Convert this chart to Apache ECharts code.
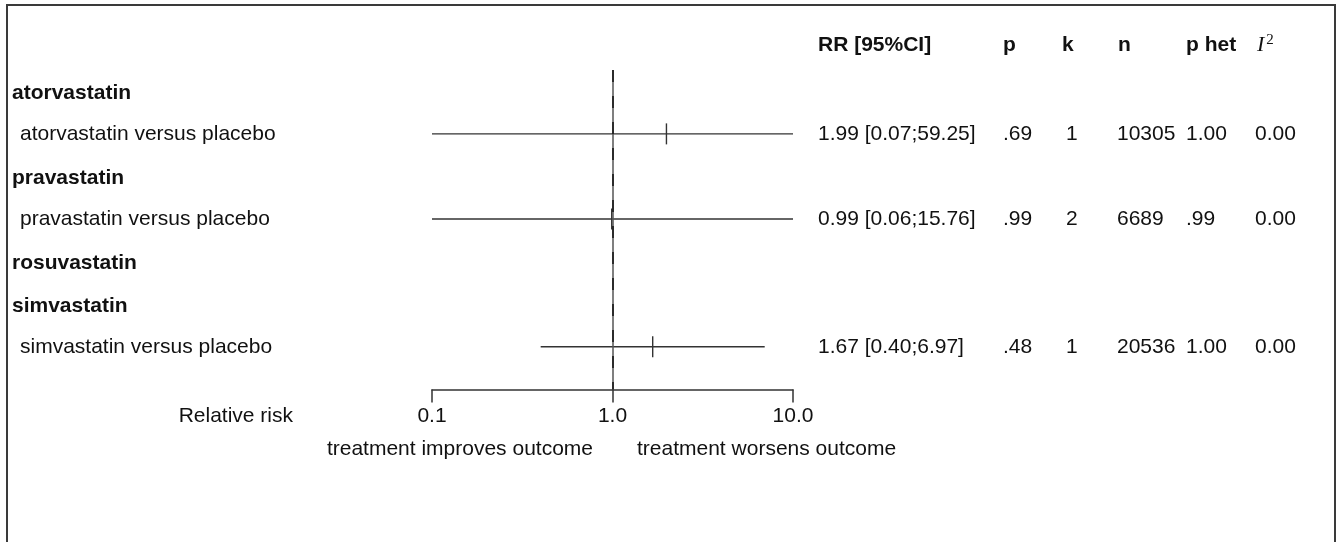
<!DOCTYPE html>
<html>
<head>
<meta charset="utf-8">
<script src="https://cdn.jsdelivr.net/npm/echarts@6/dist/echarts.min.js"></script>
<style>
  html, body { margin: 0; padding: 0; background: #fff; }
  #main { width: 1341px; height: 542px; }
</style>
</head>
<body>
<div id="main"></div>
<script>
var myChart = echarts.init(document.getElementById('main'));

// rows of the forest plot, top to bottom
var rowLabels = [
  'atorvastatin',
  'atorvastatin versus placebo',
  'pravastatin',
  'pravastatin versus placebo',
  'rosuvastatin',
  'simvastatin',
  'simvastatin versus placebo'
];
var isGroup = [true, false, true, false, true, true, false];

// relative risk with 95% CI
var estimates = [null, 1.99, null, 0.99, null, null, 1.67];
var lowerCI = [null, 0.07, null, 0.06, null, null, 0.40];
var upperCI = [null, 59.25, null, 15.76, null, null, 6.97];

// table columns
var pValues = [null, 0.69, null, 0.99, null, null, 0.48];
var kValues = [null, 1, null, 2, null, null, 1];
var nValues = [null, 10305, null, 6689, null, null, 20536];
var pHet = [null, 1.00, null, 0.99, null, null, 1.00];
var i2Values = [null, 0.00, null, 0.00, null, null, 0.00];

var headers = ['RR [95%CI]', 'p', 'k', 'n', 'p het', 'I2'];

// layout
var FONT = 'Liberation Sans';
var FS = 21;
var TXT = '#111';
var LINE = '#333';
var AX_MIN = 0.1, AX_MAX = 10;
var headerRow = -1.08;
var colX = [818, 1003, 1066, 1117, 1186, 1255];
var headX = [818, 1003, 1062, 1118, 1186, 1257];

function fmtP(v) {
  var s = v.toFixed(2);
  return v < 1 ? s.replace(/^0/, '') : s;
}

var ciData = [];
var tableData = [];
for (var i = 0; i < rowLabels.length; i++) {
  tableData.push([1, i]);
  if (estimates[i] != null) {
    ciData.push([estimates[i], i, lowerCI[i], upperCI[i]]);
  }
}

function clampX(v) { return Math.min(Math.max(v, AX_MIN), AX_MAX); }

function renderCI(params, api) {
  var row = api.value(1);
  var p = api.coord([api.value(0), row]);
  var a = api.coord([clampX(api.value(2)), row]);
  var b = api.coord([clampX(api.value(3)), row]);
  return {
    type: 'group',
    children: [
      { type: 'line', shape: { x1: a[0], y1: a[1], x2: b[0], y2: b[1] },
        style: { stroke: LINE, lineWidth: 1.4 } },
      { type: 'line', shape: { x1: p[0], y1: p[1] - 10.5, x2: p[0], y2: p[1] + 10.5 },
        style: { stroke: LINE, lineWidth: 1.4 } }
    ]
  };
}

function txt(x, y, s, bold) {
  return { type: 'text', x: x, y: y,
    style: { text: s, fill: TXT, font: (bold ? 'bold ' : '') + FS + 'px "' + FONT + '"',
      textAlign: 'left', textVerticalAlign: 'middle' } };
}

function renderTable(params, api) {
  var i = api.value(1);
  var y = api.coord([1, i])[1];
  var children = [];
  if (isGroup[i]) {
    children.push(txt(12, y + 2, rowLabels[i], true));
  } else {
    children.push(txt(20, y, rowLabels[i], false));
  }
  if (estimates[i] != null) {
    var rr = estimates[i].toFixed(2) + ' [' + lowerCI[i].toFixed(2) + ';' + upperCI[i].toFixed(2) + ']';
    children.push(txt(colX[0], y, rr));
    children.push(txt(colX[1], y, fmtP(pValues[i])));
    children.push(txt(colX[2], y, String(kValues[i])));
    children.push(txt(colX[3], y, String(nValues[i])));
    children.push(txt(colX[4], y, fmtP(pHet[i])));
    children.push(txt(colX[5], y, i2Values[i].toFixed(2)));
  }
  if (i === 0) {
    var hy = api.coord([1, headerRow])[1];
    for (var h = 0; h < headers.length - 1; h++) {
      children.push(txt(headX[h], hy, headers[h], true));
    }
    children.push({ type: 'text', x: headX[5], y: hy,
      style: { text: '{i|I}{s|2}', textAlign: 'left', textVerticalAlign: 'middle',
        rich: {
          i: { fontFamily: 'Liberation Serif', fontStyle: 'italic', fontSize: 22, fill: TXT, color: TXT },
          s: { fontFamily: 'Liberation Serif', fontSize: 15, fill: TXT, color: TXT, verticalAlign: 'top', padding: [0, 0, 10, 2] }
        } } });
  }
  return { type: 'group', children: children };
}

var option = {
  backgroundColor: '#fff',
  animation: false,
  textStyle: { fontFamily: FONT },
  grid: { left: 432, right: 548, top: 70, bottom: 152.6, containLabel: false, outerBoundsMode: 'none' },
  xAxis: {
    type: 'log',
    logBase: 10,
    min: AX_MIN,
    max: AX_MAX,
    position: 'bottom',
    axisLine: { show: true, onZero: false, lineStyle: { color: LINE, width: 1.5 } },
    axisTick: { show: true, length: 13, lineStyle: { color: LINE, width: 1.5 } },
    axisLabel: { show: true, margin: 16, fontSize: FS, color: TXT, fontFamily: FONT,
      showMinLabel: true, showMaxLabel: true,
      formatter: function (v) { return Number(v).toFixed(1); } },
    splitLine: { show: false },
    minorTick: { show: false }
  },
  yAxis: {
    type: 'value',
    inverse: true,
    min: -0.5,
    max: 7,
    show: false,
    splitLine: { show: false }
  },
  graphic: [
    { type: 'rect', shape: { x: 7, y: 5, width: 1328, height: 600 },
      style: { fill: 'none', stroke: '#3a3a3a', lineWidth: 2 }, silent: true },
    { type: 'text', x: 293, y: 416,
      style: { text: 'Relative risk', fill: TXT, font: FS + 'px "' + FONT + '"', textAlign: 'right', textVerticalAlign: 'middle' } },
    { type: 'text', x: 593, y: 449,
      style: { text: 'treatment improves outcome', fill: TXT, font: FS + 'px "' + FONT + '"', textAlign: 'right', textVerticalAlign: 'middle' } },
    { type: 'text', x: 637, y: 449,
      style: { text: 'treatment worsens outcome', fill: TXT, font: FS + 'px "' + FONT + '"', textAlign: 'left', textVerticalAlign: 'middle' } }
  ],
  series: [
    {
      type: 'custom',
      name: 'ci',
      clip: false,
      renderItem: renderCI,
      encode: { x: [0, 2, 3], y: 1 },
      data: ciData,
      markLine: {
        silent: true,
        symbol: 'none',
        label: { show: false },
        data: [
          { xAxis: 1, lineStyle: { color: '#555', width: 1.5, type: 'solid' } },
          { xAxis: 1, lineStyle: { color: '#111', width: 1.5, type: [12, 14] } }
        ]
      }
    },
    {
      type: 'custom',
      name: 'table',
      clip: false,
      renderItem: renderTable,
      encode: { x: 0, y: 1 },
      data: tableData
    }
  ]
};

myChart.setOption(option);
</script>
</body>
</html>
